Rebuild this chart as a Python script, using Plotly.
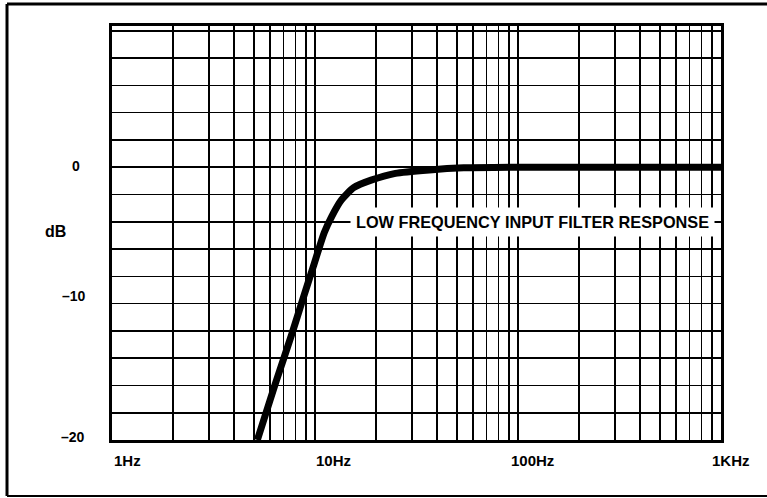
import math
import plotly.graph_objects as go

# ---- data ----
freq_hz = [5.2, 6.0, 6.4, 7.7, 8.7, 9.8, 11.1, 12.1, 13.5, 15.5, 18.9, 24.9, 36.6, 54, 100, 1000]
gain_db = [-20, -17.1, -15.8, -12.2, -9.7, -7.3, -4.8, -3.6, -2.4, -1.5, -0.95, -0.45, -0.2, -0.05, 0, 0]

decades = [1, 10, 100]
grid_freqs = [d * m for d in decades for m in range(1, 10)] + [1000]
grid_db = list(range(-20, 11, 2))

x_tick_vals = [1, 10, 100, 1000]
x_tick_text = ["1Hz", "10Hz", "100Hz", "1KHz"]
y_tick_vals = [0, -10, -20]
y_tick_text = ["0", "–10", "–20"]

title_text = "LOW FREQUENCY INPUT FILTER RESPONSE"

FONT = "Liberation Sans"

fig = go.Figure()
fig.add_trace(go.Scatter(
    x=freq_hz, y=gain_db, mode="lines",
    line=dict(color="black", width=7, shape="spline", smoothing=0.6),
    hoverinfo="skip", showlegend=False, cliponaxis=True,
))

fig.update_xaxes(
    type="log", range=[0, 3],
    tickvals=grid_freqs, showticklabels=False, ticks="",
    showgrid=True, gridcolor="black", gridwidth=1.6,
    showline=True, mirror=True, linecolor="black", linewidth=3,
    zeroline=False,
)
fig.update_yaxes(
    range=[-20, 10.35],
    tickvals=grid_db, showticklabels=False, ticks="",
    showgrid=True, gridcolor="black", gridwidth=1.6,
    showline=True, mirror=True, linecolor="black", linewidth=3,
    zeroline=False,
)

annotations = []
x_shifts = [15, 18, 14, 10]
for v, t, s in zip(x_tick_vals, x_tick_text, x_shifts):
    annotations.append(dict(
        x=math.log10(v), xref="x", y=0, yref="paper",
        text=t, showarrow=False, xanchor="center", yanchor="middle",
        xshift=s, yshift=-20,
        font=dict(family=FONT, size=15, color="black", weight="bold"),
    ))

y_xshifts = [-36, -38, -39]
y_yshifts = [1.5, 8, 3]
for v, t, xs, ys in zip(y_tick_vals, y_tick_text, y_xshifts, y_yshifts):
    annotations.append(dict(
        x=0, xref="paper", y=v, yref="y",
        text=t, showarrow=False, xanchor="center", yanchor="middle",
        xshift=xs, yshift=ys,
        font=dict(family=FONT, size=14, color="black", weight="bold"),
    ))

annotations.append(dict(
    x=0, xref="paper", y=-4.75, yref="y",
    text="dB", showarrow=False, xanchor="center", yanchor="middle",
    xshift=-57,
    font=dict(family=FONT, size=16, color="black", weight="bold"),
))

annotations.append(dict(
    x=0.69, xref="paper", y=-4.0, yref="y",
    text=title_text, showarrow=False, xanchor="center", yanchor="middle",
    bgcolor="white", borderpad=5,
    font=dict(family=FONT, size=16.3, color="black", weight="bold"),
))

# outer frame (top, left, bottom)
frame = [
    dict(type="line", xref="paper", yref="paper", x0=-0.1724, x1=1.08, y0=1.0531, y1=1.0531,
         line=dict(color="black", width=3)),
    dict(type="line", xref="paper", yref="paper", x0=-0.1724, x1=-0.1724, y0=1.0531, y1=-0.1353,
         line=dict(color="black", width=3)),
    dict(type="line", xref="paper", yref="paper", x0=-0.1724, x1=1.08, y0=-0.1353, y1=-0.1353,
         line=dict(color="black", width=2)),
]

fig.update_layout(
    width=767, height=498,
    margin=dict(l=112, r=46, t=26, b=58),
    paper_bgcolor="white", plot_bgcolor="white",
    annotations=annotations, shapes=frame,
    showlegend=False,
)

fig.write_html(
    "out.html",
    config={"displayModeBar": False, "staticPlot": True},
    post_script="document.body.style.margin='0';document.body.style.overflow='hidden';",
)
